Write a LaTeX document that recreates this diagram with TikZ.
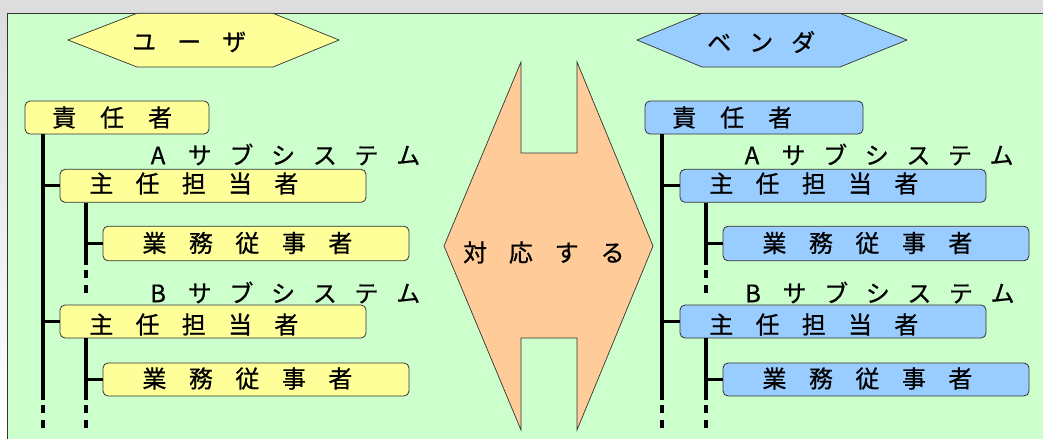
\documentclass[tikz,border=0pt]{standalone}
\usepackage{fontspec}
\setmainfont{Noto Sans CJK JP}[FakeBold=0.6]
\definecolor{bggray}{HTML}{DDDDDD}
\definecolor{bggreen}{HTML}{CCFFCC}
\definecolor{uyellow}{HTML}{FFFF99}
\definecolor{vblue}{HTML}{99CCFF}
\definecolor{corange}{HTML}{FFCC99}
\definecolor{darkline}{HTML}{333333}
\makeatletter
\def\spreadloop#1{\ifx#1\relax\else\makebox[\chpitch][c]{#1}\expandafter\spreadloop\fi}
\newcommand\spread[2]{\def\chpitch{#1}\spreadloop#2\relax}
\makeatother
\tikzset{
  box/.style={draw=darkline, line width=0.8pt, rounded corners=5pt, inner sep=0pt, minimum height=33pt},
  ubox/.style={box, fill=uyellow},
  vbox/.style={box, fill=vblue},
  shapeline/.style={draw=darkline, line width=0.7pt},
  bar/.style={line width=4.3pt, line cap=butt},
  dbar/.style={line width=4.3pt, line cap=butt, dash pattern=on 8pt off 7pt},
  hconn/.style={line width=3.3pt},
  lbl/.style={anchor=west, inner sep=0pt, font=\fontsize{24}{24}\selectfont},
}
\begin{document}
\begin{tikzpicture}[x=1pt,y=-1pt]
\useasboundingbox (0,0) rectangle (1043,439);
\fill[bggray] (0,0) rectangle (1043,439);
\shade[top color=bggray, bottom color=white] (0,13.3) rectangle (7.5,439);
\fill[bggreen] (7.5,13.3) rectangle (1043,439);
\draw[line width=1.3pt, darkline] (7.5,439) -- (7.5,13.3) -- (1043,13.3);

% hexagons
\filldraw[shapeline, fill=uyellow] (68,40) -- (137,13.3) -- (273,13.3) -- (339,40) -- (273,67) -- (137,67) -- cycle;
\node[lbl] (uhead) at (121.5,42) {\spread{45pt}{ユーザ}};
\filldraw[shapeline, fill=vblue] (637,40) -- (702,13.3) -- (840,13.3) -- (907,40) -- (840,67) -- (702,67) -- cycle;
\node[lbl] (vhead) at (698,42) {\spread{42pt}{ベンダ}};

% middle shape
\filldraw[shapeline, fill=corange] (521,62) -- (521,153) -- (577,153) -- (577,62) -- (653,246)
  -- (577,430) -- (577,338) -- (521,338) -- (521,430) -- (444,246) -- cycle;
\node[lbl] (mid) at (452,252.5) {\spread{45.8pt}{対応する}};

% ===== user side =====
\node[ubox, minimum width=184pt] (ur) at (117,117.5) {};
\node[lbl] (urt) at (40,117.5) {\spread{48pt}{責任者}};
\node[lbl] (usA) at (137,154.5) {\spread{41.7pt}{Aサブシステム}};
\node[ubox, minimum width=306pt] (uaA) at (213,185.8) {};
\node[lbl] (uaAt) at (78,183.5) {\spread{46.25pt}{主任担当者}};
\node[ubox, minimum width=306pt, minimum height=34.5pt] (uwA) at (256,243.5) {};
\node[lbl] (uwAt) at (131,243) {\spread{46.5pt}{業務従事者}};
\node[lbl] (usB) at (137,292.5) {\spread{41.7pt}{Bサブシステム}};
\node[ubox, minimum width=306pt] (uaB) at (213,321.5) {};
\node[lbl] (uaBt) at (78,324.5) {\spread{46.25pt}{主任担当者}};
\node[ubox, minimum width=306pt] (uwB) at (256,379.5) {};
\node[lbl] (uwBt) at (131,378.5) {\spread{46.5pt}{業務従事者}};

\coordinate (uo) at (43,400);
\coordinate (uoend) at (43,429);
\coordinate (uiA) at (86,265);
\coordinate (uiAend) at (86,293);
\coordinate (uiB) at (86,400);
\coordinate (uiBend) at (86,429);
\draw[bar] (ur.south -| uo) -- (uo);
\draw[dbar] ([yshift=-5pt]uo) -- (uoend);
\draw[hconn] (uaA.west -| uo) -- (uaA.west);
\draw[hconn] (uaB.west -| uo) -- (uaB.west);
\draw[bar] (uaA.south -| uiA) -- (uiA);
\draw[dbar] ([yshift=-5pt]uiA) -- (uiAend);
\draw[hconn] (uwA.west -| uiA) -- (uwA.west);
\draw[bar] (uaB.south -| uiB) -- (uiB);
\draw[dbar] ([yshift=-5pt]uiB) -- (uiBend);
\draw[hconn] (uwB.west -| uiB) -- (uwB.west);

% ===== vendor side =====
\node[vbox, minimum width=218pt] (vr) at (754,117.5) {};
\node[lbl] (vrt) at (660,117.5) {\spread{48pt}{責任者}};
\node[lbl] (vsA) at (731,154.5) {\spread{41.6pt}{Aサブシステム}};
\node[vbox, minimum width=306pt] (vaA) at (833,185.8) {};
\node[lbl] (vaAt) at (698,183.5) {\spread{46.25pt}{主任担当者}};
\node[vbox, minimum width=306pt, minimum height=34.5pt] (vwA) at (876,243.5) {};
\node[lbl] (vwAt) at (751,243) {\spread{46.5pt}{業務従事者}};
\node[lbl] (vsB) at (732,292.5) {\spread{41.6pt}{Bサブシステム}};
\node[vbox, minimum width=306pt] (vaB) at (833,321.5) {};
\node[lbl] (vaBt) at (698,324.5) {\spread{46.25pt}{主任担当者}};
\node[vbox, minimum width=306pt] (vwB) at (876,379.5) {};
\node[lbl] (vwBt) at (751,378.5) {\spread{46.5pt}{業務従事者}};

\coordinate (vo) at (662,400);
\coordinate (voend) at (662,429);
\coordinate (viA) at (706,265);
\coordinate (viAend) at (706,293);
\coordinate (viB) at (706,400);
\coordinate (viBend) at (706,429);
\draw[bar] (vr.south -| vo) -- (vo);
\draw[dbar] ([yshift=-5pt]vo) -- (voend);
\draw[hconn] (vaA.west -| vo) -- (vaA.west);
\draw[hconn] (vaB.west -| vo) -- (vaB.west);
\draw[bar] (vaA.south -| viA) -- (viA);
\draw[dbar] ([yshift=-5pt]viA) -- (viAend);
\draw[hconn] (vwA.west -| viA) -- (vwA.west);
\draw[bar] (vaB.south -| viB) -- (viB);
\draw[dbar] ([yshift=-5pt]viB) -- (viBend);
\draw[hconn] (vwB.west -| viB) -- (vwB.west);
\end{tikzpicture}
\end{document}
